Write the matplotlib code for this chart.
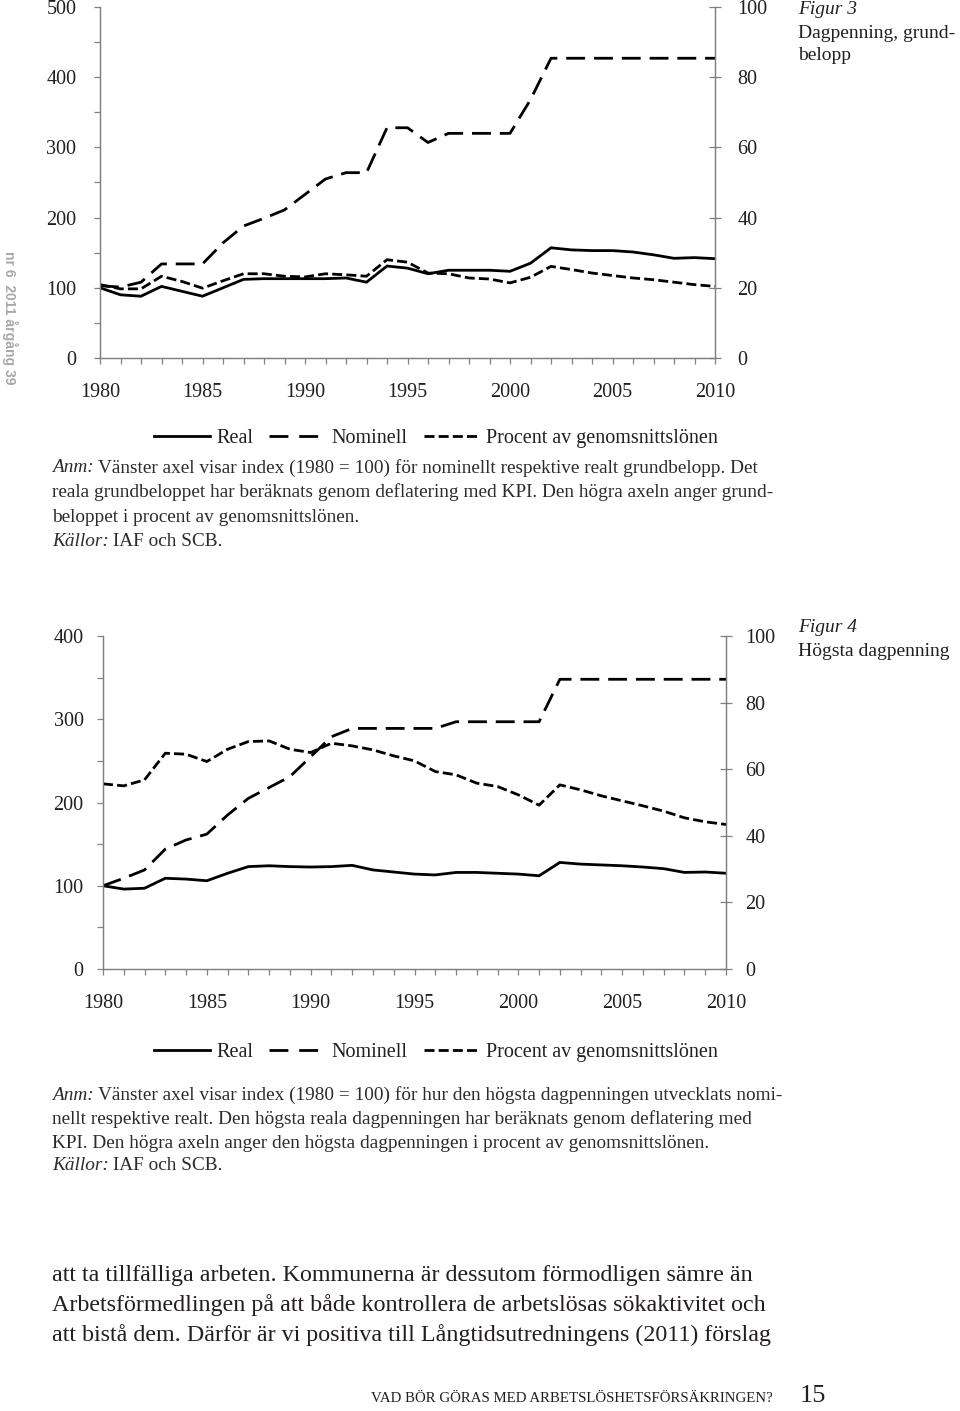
import numpy as np
import matplotlib
matplotlib.use('Agg')
import matplotlib.pyplot as plt
from matplotlib.lines import Line2D
from matplotlib.ticker import MultipleLocator

plt.rcParams['font.family'] = 'Liberation Serif'
plt.rcParams['text.color'] = '#231f20'

years = list(range(1980, 2011))

# Figur 3: grundbelopp
fig3_real = [100, 90, 88, 102, 95, 88, 100, 112, 113, 113, 113, 113, 114, 108, 131, 128,
             120, 125, 125, 125, 123.5, 135, 157, 154, 153, 153, 151, 147, 142, 143, 141.5]
fig3_nominell = [103, 101, 108, 134, 134, 134, 164, 188, 199, 211, 233, 255, 264, 264, 328, 328,
                 307, 320, 320, 320, 320, 368, 427, 427, 427, 427, 427, 427, 427, 427, 427]
fig3_procent = [20.9, 19.7, 19.7, 23.3, 21.8, 19.9, 22, 24, 24, 23.3, 23.1, 24, 23.7, 23.3, 28, 27.3,
                24.2, 24, 22.8, 22.5, 21.4, 23, 26.1, 25.2, 24.2, 23.5, 22.8, 22.3, 21.6, 20.9, 20.4]

# Figur 4: högsta dagpenning
fig4_real = [100, 96, 97, 109, 108, 106, 115, 123, 124, 123, 122.5, 123, 124.5, 119, 116.5, 114,
             113, 116, 116, 115, 114, 112, 128, 126, 125, 124, 122.5, 120.5, 116, 116.5, 115]
fig4_nominell = [100, 109, 119, 144, 155, 162, 185, 205, 218, 231, 255, 279, 289, 289, 289, 289,
                 289, 297, 297, 297, 297, 297, 348, 348, 348, 348, 348, 348, 348, 348, 348]
fig4_procent = [55.6, 55, 56.8, 64.8, 64.5, 62.3, 66, 68.3, 68.5, 66, 65, 67.8, 67, 65.8, 64, 62.5,
                59.3, 58.3, 55.8, 54.8, 52.3, 49.2, 55.3, 53.8, 52, 50.5, 49, 47.4, 45.4, 44.2, 43.4]

series_labels = ['Real', 'Nominell', 'Procent av genomsnittslönen']

W, H = 960, 1411
fig = plt.figure(figsize=(9.6, 14.11), dpi=100)

LW = 2.0
LONG = (6.8, 3.2)
SHORT = (3.6, 1.5)
AXC = '#808080'
TXT = '#231f20'
TICK_FS = 14.5


def px(x, y):
    return x / W, 1 - y / H


def make_chart(rect, real, nominell, procent, ymax_left, lpad, rpad):
    ax = fig.add_axes(rect)
    ax2 = ax.twinx()
    ax.plot(years, real, color='black', lw=LW, solid_joinstyle='miter')
    ax.plot(years, nominell, color='black', lw=LW, dashes=LONG)
    ax2.plot(years, procent, color='black', lw=LW, dashes=SHORT)
    ax.set_xlim(1980, 2010)
    ax.set_ylim(0, ymax_left)
    ax2.set_ylim(0, 100)
    ax.yaxis.set_major_locator(MultipleLocator(100))
    ax.yaxis.set_minor_locator(MultipleLocator(50))
    ax2.yaxis.set_major_locator(MultipleLocator(20))
    ax.xaxis.set_major_locator(MultipleLocator(5))
    ax.xaxis.set_minor_locator(MultipleLocator(1))
    for a in (ax, ax2):
        a.spines['top'].set_visible(False)
        for s in a.spines.values():
            s.set_color(AXC)
            s.set_linewidth(0.9)
        a.set_facecolor('none')
    ax.tick_params(axis='y', which='both', direction='out', length=4, width=0.9,
                   color=AXC, labelsize=TICK_FS, pad=lpad, labelcolor=TXT)
    ax.tick_params(axis='x', which='both', direction='out', length=4, width=0.9,
                   color=AXC, labelsize=TICK_FS, pad=14, labelcolor=TXT)
    ax2.tick_params(axis='y', which='major', direction='inout', length=8, width=0.9,
                    color=AXC, labelsize=TICK_FS, pad=rpad, labelcolor=TXT)
    return ax


def legend_at(y):
    handles = [Line2D([], [], color='black', lw=LW),
               Line2D([], [], color='black', lw=LW, dashes=(6.8, 3.9)),
               Line2D([], [], color='black', lw=LW, dashes=SHORT)]
    fig.legend(handles, series_labels, loc='center', bbox_to_anchor=px(436, y),
               ncol=3, frameon=False, fontsize=14.5, handlelength=2.8,
               handletextpad=0.3, columnspacing=0.8)


def rich_line(x, y, parts, size):
    renderer = fig.canvas.get_renderer()
    cx = x
    for txt, style in parts:
        t = fig.text(cx / W, 1 - y / H, txt, fontsize=size, style=style,
                     ha='left', va='center', color='#2b2b2b')
        bb = t.get_window_extent(renderer=renderer)
        cx = bb.x1 + 4


ANM_FS = 13.9

# Figur 3
make_chart([100 / W, 1 - 358 / H, 615 / W, 351 / H], fig3_real, fig3_nominell,
           fig3_procent, 500, 13, 12)
fig.text(*px(798, 10), 'Figur 3', style='italic', fontsize=14, va='center')
fig.text(*px(798, 33), 'Dagpenning, grund-', fontsize=14, va='center')
fig.text(*px(798, 56), 'belopp', fontsize=14, va='center')
legend_at(438)
rich_line(52, 468, [('Anm:', 'italic'),
                    ('Vänster axel visar index (1980 = 100) för nominellt respektive realt grundbelopp. Det', 'normal')], ANM_FS)
rich_line(52, 492, [('reala grundbeloppet har beräknats genom deflatering med KPI. Den högra axeln anger grund-', 'normal')], ANM_FS)
rich_line(52, 517, [('beloppet i procent av genomsnittslönen.', 'normal')], ANM_FS)
rich_line(52, 541, [('Källor:', 'italic'), ('IAF och SCB.', 'normal')], ANM_FS)

# Figur 4
make_chart([103 / W, 1 - 969 / H, 623 / W, 333 / H], fig4_real, fig4_nominell,
           fig4_procent, 400, 10, 10)
fig.text(*px(798, 628), 'Figur 4', style='italic', fontsize=14, va='center')
fig.text(*px(798, 652), 'Högsta dagpenning', fontsize=14, va='center')
legend_at(1052)
rich_line(52, 1095, [('Anm:', 'italic'),
                     ('Vänster axel visar index (1980 = 100) för hur den högsta dagpenningen utvecklats nomi-', 'normal')], ANM_FS)
rich_line(52, 1119, [('nellt respektive realt. Den högsta reala dagpenningen har beräknats genom deflatering med', 'normal')], ANM_FS)
rich_line(52, 1143, [('KPI. Den högra axeln anger den högsta dagpenningen i procent av genomsnittslönen.', 'normal')], ANM_FS)
rich_line(52, 1165, [('Källor:', 'italic'), ('IAF och SCB.', 'normal')], ANM_FS)

# body text
body = ['att ta tillfälliga arbeten. Kommunerna är dessutom förmodligen sämre än',
        'Arbetsförmedlingen på att både kontrollera de arbetslösas sökaktivitet och',
        'att bistå dem. Därför är vi positiva till Långtidsutredningens (2011) förslag']
for i, line in enumerate(body):
    fig.text(*px(52, 1276 + 29.5 * i), line, fontsize=17.3, va='center', color=TXT)

fig.text(*px(773, 1398), 'VAD BÖR GÖRAS MED ARBETSLÖSHETSFÖRSÄKRINGEN?', fontsize=10.7,
         ha='right', va='center', color=TXT)
fig.text(*px(800, 1396), '15', fontsize=19, ha='left', va='center', color=TXT)

fig.text(*px(10, 318), 'nr 6  2011 årgång 39', family='Liberation Sans', weight='bold',
         fontsize=10, rotation=270, ha='center', va='center', color='#a8a8a8')

fig.savefig('out.png', dpi=100)
